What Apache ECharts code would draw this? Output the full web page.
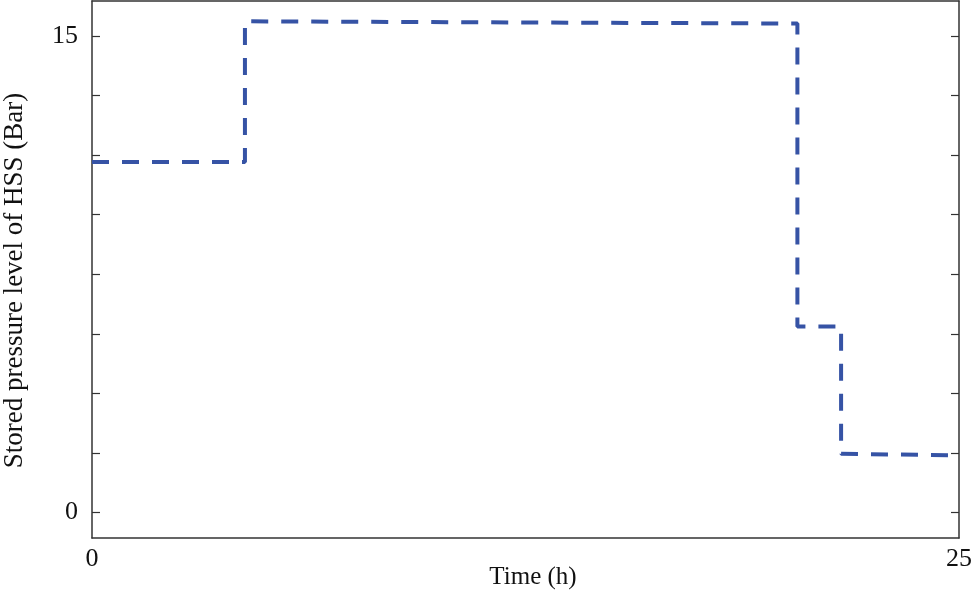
<!DOCTYPE html>
<html>
<head>
    <meta charset="utf-8">
    <style>
        html, body { margin: 0; padding: 0; background: #fff; }
        #chart-container { width: 975px; height: 594px; }
    </style>
</head>
<body>
    <div id="chart-container"></div>

    <script type="text/javascript" src="https://cdn.jsdelivr.net/npm/echarts@6/dist/echarts.min.js"></script>
    <script type="text/javascript">
        // stored pressure of HSS over the day (steps duplicated so the line is drawn square)
        var timeHours = [0, 4.41, 4.41, 20.34, 20.34, 21.6, 21.6, 25];
        var pressureBar = [11.03, 11.03, 15.46, 15.39, 5.86, 5.86, 1.85, 1.8];

        var yTickValues = [0, 1.875, 3.75, 5.625, 7.5, 9.375, 11.25, 13.125, 15];
        var yLabelValues = [0, 15];
        var xLabelValues = [0, 25];

        var fontFamily = '"Liberation Serif", "DejaVu Serif", serif';
        var axisColor = '#333';

        var chartDom = document.getElementById("chart-container");
        var myChart = echarts.init(chartDom);

        var points = timeHours.map(function (t, i) { return [t, pressureBar[i]]; });

        function frameLine() {
            return { show: true, onZero: false, lineStyle: { color: axisColor, width: 1.5 } };
        }

        var option = {
            animation: false,
            grid: { left: 92, right: 16, top: 1, bottom: 56, outerBoundsMode: 'none', containLabel: false },
            xAxis: [
                {
                    type: 'value',
                    position: 'bottom',
                    min: 0,
                    max: 25,
                    name: 'Time (h)',
                    nameLocation: 'middle',
                    nameGap: 27,
                    nameMoveOverlap: false,
                    nameTextStyle: { fontFamily: fontFamily, fontSize: 25, color: '#111', padding: [0, 0, 0, 15] },
                    axisLine: frameLine(),
                    axisTick: { show: false },
                    splitLine: { show: false },
                    axisLabel: {
                        customValues: xLabelValues,
                        margin: 8,
                        fontFamily: fontFamily, fontSize: 26, color: '#111'
                    }
                },
                {
                    type: 'value',
                    position: 'top',
                    min: 0,
                    max: 25,
                    axisLine: frameLine(),
                    axisTick: { show: false },
                    axisLabel: { show: false },
                    splitLine: { show: false }
                }
            ],
            yAxis: [
                {
                    type: 'value',
                    position: 'left',
                    min: -0.8,
                    max: 16.1,
                    name: 'Stored pressure level of HSS (Bar)',
                    nameLocation: 'middle',
                    nameGap: 64,
                    nameMoveOverlap: false,
                    nameTextStyle: { fontFamily: fontFamily, fontSize: 27, color: '#111', padding: [0, 22, 0, 0] },
                    axisLine: frameLine(),
                    axisTick: {
                        show: true, inside: true, length: 8,
                        customValues: yTickValues,
                        lineStyle: { color: axisColor, width: 1.2 }
                    },
                    splitLine: { show: false },
                    axisLabel: {
                        customValues: yLabelValues,
                        margin: 14,
                        fontFamily: fontFamily, fontSize: 26, color: '#111'
                    }
                },
                {
                    type: 'value',
                    position: 'right',
                    min: -0.8,
                    max: 16.1,
                    axisLine: frameLine(),
                    axisTick: {
                        show: true, inside: true, length: 8,
                        customValues: yTickValues,
                        lineStyle: { color: axisColor, width: 1.2 }
                    },
                    axisLabel: { show: false },
                    splitLine: { show: false }
                }
            ],
            series: [
                {
                    type: 'line',
                    data: points,
                    showSymbol: false,
                    symbol: 'none',
                    clip: true,
                    lineStyle: { color: '#3653a5', width: 4, type: [17, 13] }
                }
            ]
        };
        myChart.setOption(option);
    </script>
</body>
</html>
